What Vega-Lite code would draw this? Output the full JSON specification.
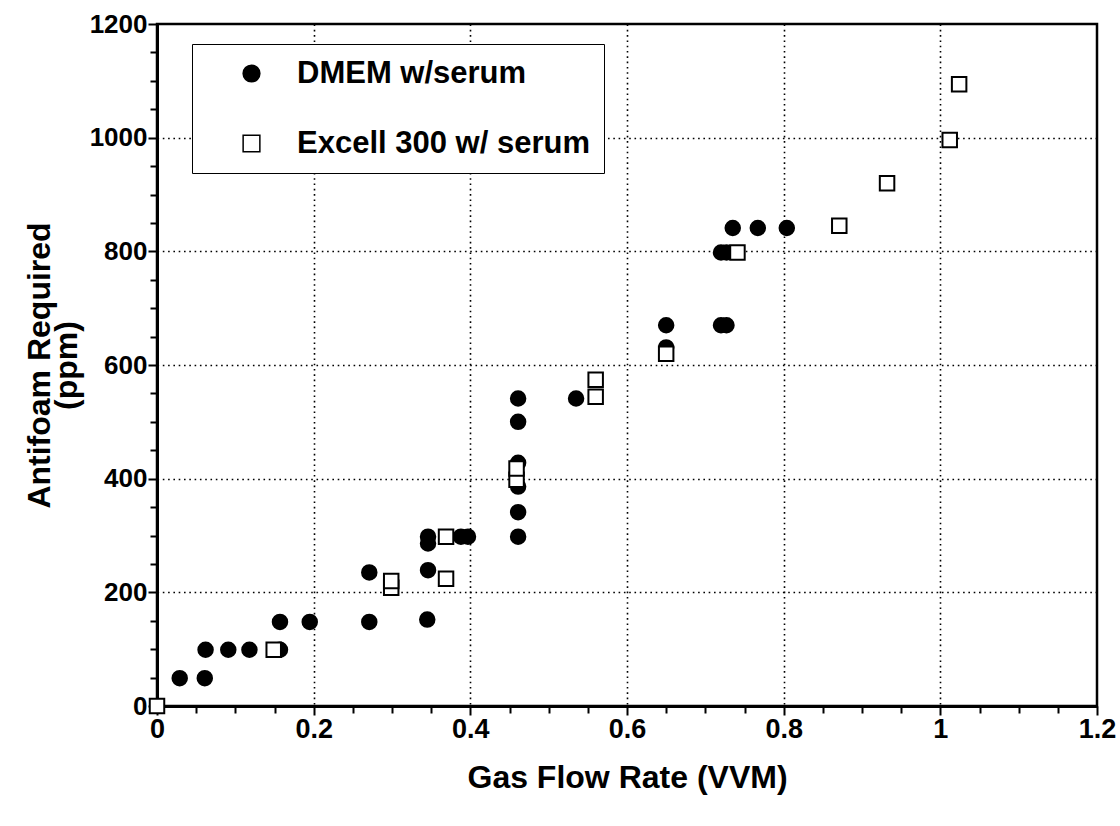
{
  "$schema": "https://vega.github.io/schema/vega-lite/v6.json",
  "width": 940,
  "height": 682,
  "autosize": {"type": "none"},
  "padding": {"left": 157, "top": 24, "right": 23, "bottom": 120},
  "background": "white",
  "config": {
    "view": {"stroke": "black", "strokeWidth": 2.5},
    "font": "Liberation Sans"
  },
  "data": {
    "values": [
      {"series": "DMEM w/serum", "vvm": 0.029, "ppm": 49},
      {"series": "DMEM w/serum", "vvm": 0.061, "ppm": 49},
      {"series": "DMEM w/serum", "vvm": 0.062, "ppm": 99},
      {"series": "DMEM w/serum", "vvm": 0.091, "ppm": 99},
      {"series": "DMEM w/serum", "vvm": 0.118, "ppm": 99},
      {"series": "DMEM w/serum", "vvm": 0.157, "ppm": 99},
      {"series": "DMEM w/serum", "vvm": 0.157, "ppm": 148},
      {"series": "DMEM w/serum", "vvm": 0.195, "ppm": 148},
      {"series": "DMEM w/serum", "vvm": 0.271, "ppm": 148},
      {"series": "DMEM w/serum", "vvm": 0.271, "ppm": 235},
      {"series": "DMEM w/serum", "vvm": 0.345, "ppm": 152},
      {"series": "DMEM w/serum", "vvm": 0.346, "ppm": 239},
      {"series": "DMEM w/serum", "vvm": 0.346, "ppm": 286},
      {"series": "DMEM w/serum", "vvm": 0.346, "ppm": 298},
      {"series": "DMEM w/serum", "vvm": 0.388, "ppm": 298},
      {"series": "DMEM w/serum", "vvm": 0.397, "ppm": 298},
      {"series": "DMEM w/serum", "vvm": 0.461, "ppm": 298},
      {"series": "DMEM w/serum", "vvm": 0.461, "ppm": 341},
      {"series": "DMEM w/serum", "vvm": 0.461, "ppm": 386},
      {"series": "DMEM w/serum", "vvm": 0.461, "ppm": 428},
      {"series": "DMEM w/serum", "vvm": 0.461, "ppm": 500},
      {"series": "DMEM w/serum", "vvm": 0.461, "ppm": 541},
      {"series": "DMEM w/serum", "vvm": 0.535, "ppm": 541},
      {"series": "DMEM w/serum", "vvm": 0.650, "ppm": 631},
      {"series": "DMEM w/serum", "vvm": 0.650, "ppm": 670},
      {"series": "DMEM w/serum", "vvm": 0.720, "ppm": 670},
      {"series": "DMEM w/serum", "vvm": 0.727, "ppm": 670},
      {"series": "DMEM w/serum", "vvm": 0.720, "ppm": 798},
      {"series": "DMEM w/serum", "vvm": 0.727, "ppm": 798},
      {"series": "DMEM w/serum", "vvm": 0.735, "ppm": 841},
      {"series": "DMEM w/serum", "vvm": 0.767, "ppm": 841},
      {"series": "DMEM w/serum", "vvm": 0.804, "ppm": 841},
      {"series": "Excell 300 w/ serum", "vvm": 0.0, "ppm": 0},
      {"series": "Excell 300 w/ serum", "vvm": 0.149, "ppm": 99},
      {"series": "Excell 300 w/ serum", "vvm": 0.299, "ppm": 208},
      {"series": "Excell 300 w/ serum", "vvm": 0.299, "ppm": 220},
      {"series": "Excell 300 w/ serum", "vvm": 0.369, "ppm": 298},
      {"series": "Excell 300 w/ serum", "vvm": 0.369, "ppm": 224},
      {"series": "Excell 300 w/ serum", "vvm": 0.459, "ppm": 398},
      {"series": "Excell 300 w/ serum", "vvm": 0.459, "ppm": 418},
      {"series": "Excell 300 w/ serum", "vvm": 0.560, "ppm": 544},
      {"series": "Excell 300 w/ serum", "vvm": 0.560, "ppm": 574},
      {"series": "Excell 300 w/ serum", "vvm": 0.650, "ppm": 620},
      {"series": "Excell 300 w/ serum", "vvm": 0.741, "ppm": 798},
      {"series": "Excell 300 w/ serum", "vvm": 0.871, "ppm": 845},
      {"series": "Excell 300 w/ serum", "vvm": 0.932, "ppm": 920},
      {"series": "Excell 300 w/ serum", "vvm": 1.012, "ppm": 996},
      {"series": "Excell 300 w/ serum", "vvm": 1.024, "ppm": 1094}
    ]
  },
  "mark": {"type": "point", "stroke": "black", "strokeWidth": 2, "opacity": 1, "fillOpacity": 1, "filled": false, "size": 210},
  "encoding": {
    "x": {
      "field": "vvm",
      "type": "quantitative",
      "scale": {"domain": [0, 1.2], "nice": false, "zero": false},
      "axis": {
        "title": "Gas Flow Rate (VVM)",
        "titleFont": "Liberation Sans",
        "titleFontSize": 32,
        "titleFontWeight": "bold",
        "titleColor": "black",
        "titlePadding": 20,
        "values": [0, 0.05, 0.1, 0.15, 0.2, 0.25, 0.3, 0.35, 0.4, 0.45, 0.5, 0.55, 0.6, 0.65, 0.7, 0.75, 0.8, 0.85, 0.9, 0.95, 1, 1.05, 1.1, 1.15, 1.2],
        "format": "~g",
        "labelExpr": "round(datum.value*100) % 20 == 0 ? datum.label : ''",
        "labelFont": "Liberation Sans",
        "labelFontSize": 27,
        "labelFontWeight": "bold",
        "labelColor": "black",
        "labelPadding": 1,
        "labelOverlap": false,
        "labelFlush": false,
        "domainColor": "black",
        "domainWidth": 3,
        "tickColor": "black",
        "tickWidth": 2,
        "tickSize": {"condition": {"test": "round(datum.value*100) % 20 == 0", "value": 9}, "value": 7},
        "grid": true,
        "gridColor": "black",
        "gridWidth": 1.6,
        "gridDash": [1.6, 3.7],
        "gridOpacity": {"condition": {"test": "round(datum.value*100) % 20 == 0 && datum.value > 0.01 && datum.value < 1.19", "value": 1}, "value": 0}
      }
    },
    "y": {
      "field": "ppm",
      "type": "quantitative",
      "scale": {"domain": [0, 1200], "nice": false},
      "axis": {
        "title": ["Antifoam Required", "(ppm)"],
        "titleFont": "Liberation Sans",
        "titleFontSize": 32,
        "titleFontWeight": "bold",
        "titleColor": "black",
        "titlePadding": 6,
        "titleLineHeight": 27,
        "values": [0, 50, 100, 150, 200, 250, 300, 350, 400, 450, 500, 550, 600, 650, 700, 750, 800, 850, 900, 950, 1000, 1050, 1100, 1150, 1200],
        "format": "d",
        "labelExpr": "datum.value % 200 == 0 ? datum.label : ''",
        "labelFont": "Liberation Sans",
        "labelFontSize": 26,
        "labelFontWeight": "bold",
        "labelColor": "black",
        "labelPadding": 1,
        "labelOverlap": false,
        "labelFlush": false,
        "domainColor": "black",
        "domainWidth": 3,
        "tickColor": "black",
        "tickWidth": 2,
        "tickSize": {"condition": {"test": "datum.value % 200 == 0", "value": 9}, "value": 7},
        "grid": true,
        "gridColor": "black",
        "gridWidth": 1.6,
        "gridDash": [1.6, 3.7],
        "gridOpacity": {"condition": {"test": "datum.value % 200 == 0 && datum.value > 0 && datum.value < 1200", "value": 1}, "value": 0}
      }
    },
    "shape": {
      "field": "series",
      "type": "nominal",
      "scale": {"domain": ["DMEM w/serum", "Excell 300 w/ serum"], "range": ["circle", "square"]},
      "legend": {
        "title": null,
        "orient": "none",
        "legendX": 35,
        "legendY": 20,
        "fillColor": "white",
        "strokeColor": "black",
        "padding": 14,
        "rowPadding": 38,
        "symbolOffset": 30,
        "labelOffset": 30,
        "labelFont": "Liberation Sans",
        "labelFontSize": 31,
        "labelFontWeight": "bold",
        "labelColor": "black",
        "labelLimit": 500,
        "symbolSize": 280,
        "encode": {
          "legend": {"update": {"strokeWidth": {"value": 3}}},
          "symbols": {"update": {"stroke": {"value": "black"}, "strokeWidth": {"value": 2}, "size": {"signal": "datum.index == 0 ? 280 : 150"}}}
        }
      }
    },
    "fill": {
      "field": "series",
      "type": "nominal",
      "scale": {"domain": ["DMEM w/serum", "Excell 300 w/ serum"], "range": ["black", "white"]}
    }
  }
}
